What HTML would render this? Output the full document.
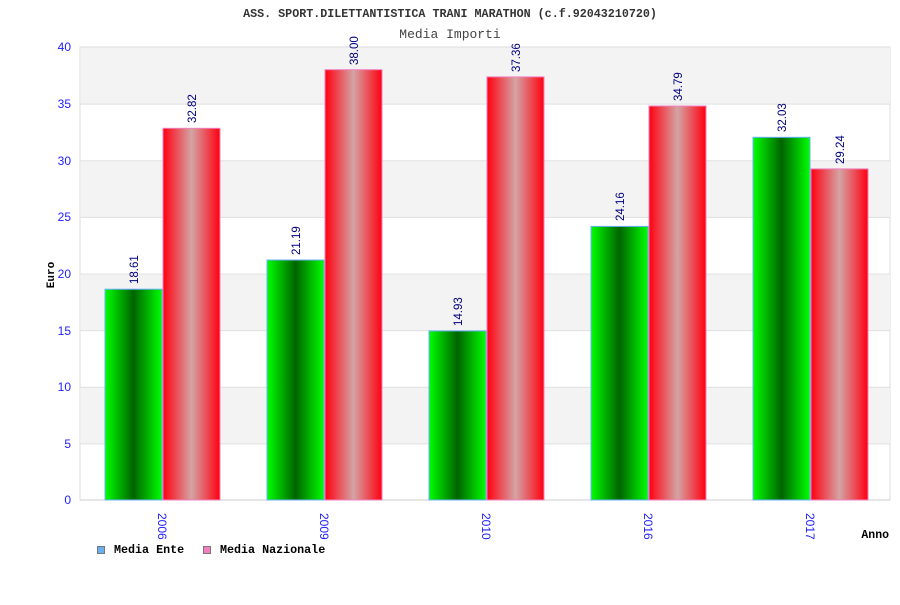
<!DOCTYPE html>
<html><head><meta charset="utf-8"><style>body{margin:0;background:#fff}</style></head><body>
<svg width="900" height="600" xmlns="http://www.w3.org/2000/svg" font-family="Liberation Mono, DejaVu Sans Mono, monospace">
<defs>
<linearGradient id="g" x1="0" x2="1" y1="0" y2="0"><stop offset="0" stop-color="#00ff00"/><stop offset="0.5" stop-color="#006400"/><stop offset="1" stop-color="#00ff00"/></linearGradient>
<linearGradient id="r" x1="0" x2="1" y1="0" y2="0"><stop offset="0" stop-color="#ff0010"/><stop offset="0.5" stop-color="#d4a4a4"/><stop offset="1" stop-color="#ff0010"/></linearGradient>
</defs>
<text x="450" y="17" text-anchor="middle" font-size="11.7" font-weight="bold" fill="#333">ASS. SPORT.DILETTANTISTICA TRANI MARATHON (c.f.92043210720)</text>
<text x="450" y="38" text-anchor="middle" font-size="13" fill="#444">Media Importi</text>
<rect x="80" y="47" width="810" height="453" fill="#fff" stroke="#ddd"/>
<g fill="#f3f3f3">
<rect x="81" y="47.5" width="809" height="56.6"/>
<rect x="81" y="160.8" width="809" height="56.6"/>
<rect x="81" y="274" width="809" height="56.6"/>
<rect x="81" y="387.3" width="809" height="56.6"/>
</g>
<g stroke="#e0e0e0">
<line x1="80" x2="890" y1="104.1" y2="104.1"/><line x1="80" x2="890" y1="160.7" y2="160.7"/><line x1="80" x2="890" y1="217.4" y2="217.4"/><line x1="80" x2="890" y1="274" y2="274"/><line x1="80" x2="890" y1="330.6" y2="330.6"/><line x1="80" x2="890" y1="387.3" y2="387.3"/><line x1="80" x2="890" y1="443.9" y2="443.9"/>
</g>
<line x1="80" x2="890" y1="500" y2="500" stroke="#ccc"/>
<g font-family="Liberation Sans, sans-serif" font-size="12" fill="#2020ff" text-anchor="end">
<text x="71" y="51">40</text><text x="71" y="108">35</text><text x="71" y="165">30</text><text x="71" y="221">25</text><text x="71" y="278">20</text><text x="71" y="335">15</text><text x="71" y="391">10</text><text x="71" y="448">5</text><text x="71" y="504">0</text>
</g>
<text transform="translate(54,275) rotate(-90)" text-anchor="middle" font-size="11" font-weight="bold" fill="#000">Euro</text>
<text x="889" y="538" text-anchor="end" font-size="11.5" font-weight="bold" fill="#000">Anno</text>
<g stroke-width="1">
<rect x="105" y="289.2" width="57" height="210.8" fill="url(#g)" stroke="#6ab0ff"/>
<rect x="163" y="128.3" width="57" height="371.7" fill="url(#r)" stroke="#f080c0"/>
<rect x="267" y="260" width="57" height="240" fill="url(#g)" stroke="#6ab0ff"/>
<rect x="325" y="69.7" width="57" height="430.3" fill="url(#r)" stroke="#f080c0"/>
<rect x="429" y="330.9" width="57" height="169.1" fill="url(#g)" stroke="#6ab0ff"/>
<rect x="487" y="76.9" width="57" height="423.1" fill="url(#r)" stroke="#f080c0"/>
<rect x="591" y="226.4" width="57" height="273.6" fill="url(#g)" stroke="#6ab0ff"/>
<rect x="649" y="106" width="57" height="394" fill="url(#r)" stroke="#f080c0"/>
<rect x="753" y="137.3" width="57" height="362.7" fill="url(#g)" stroke="#6ab0ff"/>
<rect x="811" y="168.9" width="57" height="331.1" fill="url(#r)" stroke="#f080c0"/>
</g>
<g font-family="Liberation Sans, sans-serif" font-size="11.5" fill="#000080">
<text transform="translate(138,284) rotate(-90)">18.61</text>
<text transform="translate(196,123) rotate(-90)">32.82</text>
<text transform="translate(300,255) rotate(-90)">21.19</text>
<text transform="translate(358,65) rotate(-90)">38.00</text>
<text transform="translate(462,326) rotate(-90)">14.93</text>
<text transform="translate(520,72) rotate(-90)">37.36</text>
<text transform="translate(624,221) rotate(-90)">24.16</text>
<text transform="translate(682,101) rotate(-90)">34.79</text>
<text transform="translate(786,132) rotate(-90)">32.03</text>
<text transform="translate(844,164) rotate(-90)">29.24</text>
</g>
<g font-family="Liberation Sans, sans-serif" font-size="12" fill="#2020ff">
<text transform="translate(158,513) rotate(90)">2006</text>
<text transform="translate(320,513) rotate(90)">2009</text>
<text transform="translate(482,513) rotate(90)">2010</text>
<text transform="translate(644,513) rotate(90)">2016</text>
<text transform="translate(806,513) rotate(90)">2017</text>
</g>
<rect x="97.5" y="546.5" width="7" height="7" fill="#6ab0f0" stroke="#777"/>
<text x="114" y="553" font-size="11.7" font-weight="bold" fill="#000">Media Ente</text>
<rect x="203.5" y="546.5" width="7" height="7" fill="#f080c0" stroke="#777"/>
<text x="220" y="553" font-size="11.7" font-weight="bold" fill="#000">Media Nazionale</text>
</svg>
</body></html>
